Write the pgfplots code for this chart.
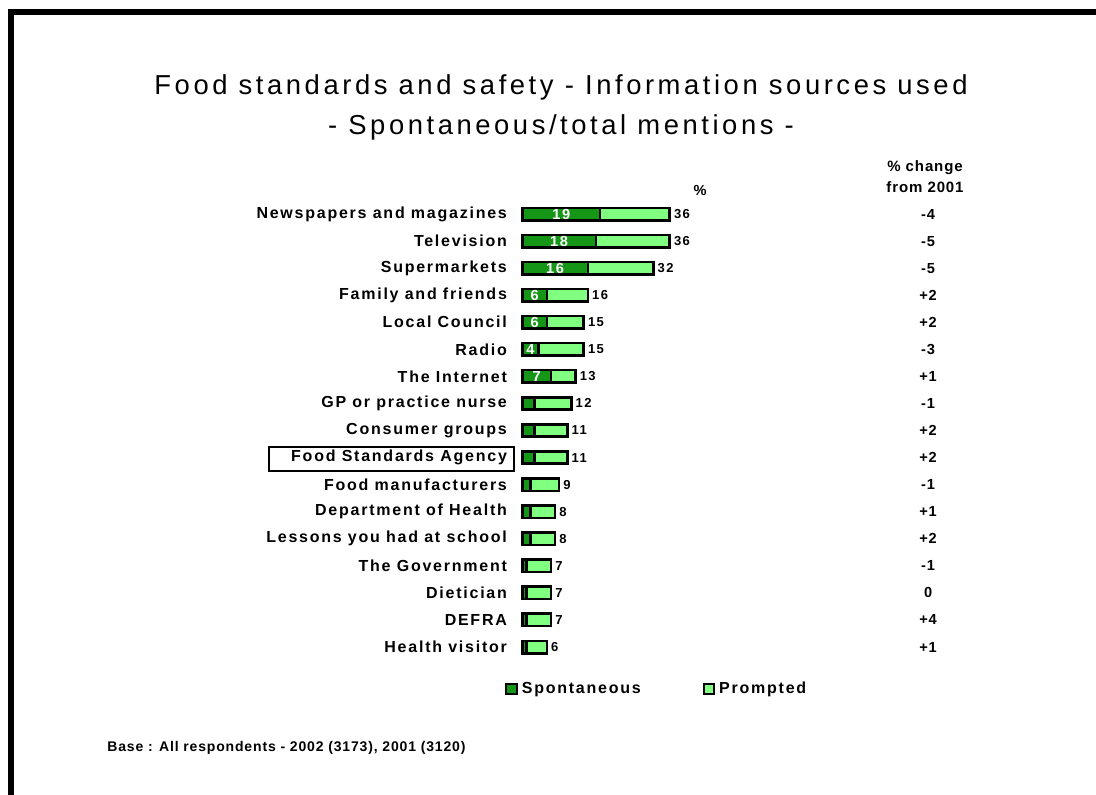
\documentclass[border=0pt]{standalone}
\usepackage{fontspec}
\setmainfont{Liberation Sans}
\newfontfamily\lab[LetterSpace=11]{Liberation Sans}
\newfontfamily\labs[LetterSpace=6]{Liberation Sans}
\newfontfamily\ttl[LetterSpace=13]{Liberation Sans}
\usepackage{pgfplots}
\usepackage{pgfplotstable}
\pgfplotsset{compat=1.18}

\definecolor{spont}{RGB}{22,150,22}
\definecolor{prompt}{RGB}{128,255,128}

% y: row position (16 = top), spont/total in %, change vs 2001
\pgfplotstableread{
y  spont total change lab
16 19 36 -4 19
15 18 36 -5 18
14 16 32 -5 16
13 6  16 +2 6
12 6  15 +2 6
11 4  15 -3 4
10 7  13 +1 7
9  3  12 -1 {}
8  3  11 +2 {}
7  3  11 +2 {}
6  2  9  -1 {}
5  2  8  +1 {}
4  2  8  +2 {}
3  1  7  -1 {}
2  1  7  0  {}
1  1  7  +4 {}
0  1  6  +1 {}
}\data

\begin{document}
\begin{tikzpicture}
\path[use as bounding box] (0,0) rectangle (548pt,397pt);

\begin{axis}[
    at={(261.15pt,73.5pt)}, anchor=origin,
    scale only axis,
    width=73.7pt, height=216.5pt,
    xmin=0, xmax=36, ymin=0, ymax=16,
    clip=false,
    axis line style={draw=none},
    major tick length=0pt,
    xtick=\empty,
    ytick={0,...,16},
    yticklabels={Health visitor, DEFRA, Dietician, The Government,
      Lessons you had at school, Department of Health, Food manufacturers,
      Food Standards Agency, Consumer groups, GP or practice nurse,
      The Internet, Radio, Local Council, Family and friends,
      Supermarkets, Television, Newspapers and magazines},
    yticklabel style={font=\lab\bfseries\fontsize{8pt}{9pt}\selectfont,
      anchor=east, inner sep=0pt, xshift=-7.5pt},
    legend columns=2,
    reverse legend,
    legend style={at={(axis description cs:-0.117,-0.097)}, anchor=west,
      draw=none, fill=none, inner sep=0pt,
      font=\lab\bfseries\fontsize{8pt}{9pt}\selectfont,
      /tikz/every even column/.append style={column sep=29pt}},
    legend cell align=left,
  ]
  \addplot[xbar, bar width=6.2pt, bar shift=0pt, draw=black, line width=1.3pt,
    fill=prompt,
    legend image code/.code={\draw[fill=prompt, draw=black, line width=1pt]
      (0pt,-2.6pt) rectangle (5.2pt,2.6pt);},
    nodes near coords, point meta=explicit symbolic,
    every node near coord/.append style={anchor=west, inner sep=1.5pt,
      font=\lab\bfseries\fontsize{6.5pt}{7pt}\selectfont}]
    table[x=total, y=y, meta=total] {\data};
  \addlegendentry{Prompted}
  \addplot[xbar, bar width=6.2pt, bar shift=0pt, draw=black, line width=1.3pt,
    fill=spont,
    legend image code/.code={\draw[fill=spont, draw=black, line width=1pt]
      (0pt,-2.6pt) rectangle (5.2pt,2.6pt);}]
    table[x=spont, y=y] {\data};
  \addlegendentry{Spontaneous}
  % spontaneous values inside the dark segments
  \addplot[draw=none, mark=none, forget plot,
    nodes near coords, point meta=explicit symbolic,
    every node near coord/.append style={anchor=center, text=white,
      font=\lab\bfseries\fontsize{7.3pt}{8pt}\selectfont}]
    table[x expr=\thisrow{spont}/2, y=y, meta=lab] {\data};
  % change from 2001 column
  \addplot[draw=none, mark=none, forget plot,
    nodes near coords, point meta=explicit symbolic,
    every node near coord/.append style={anchor=center,
      font=\labs\bfseries\fontsize{7.3pt}{8pt}\selectfont}]
    table[x expr=99.1, y=y, meta=change] {\data};
\end{axis}

\begin{scope}[x=0.5pt, y=-0.5pt, yshift=397pt]
  % frame
  \draw[line width=3pt] (10.5,900) -- (10.5,12) -- (1200,12);
  % title
  \node[align=center, font=\ttl\fontsize{13.7pt}{20pt}\selectfont]
    at (561,107) {Food standards and safety - Information sources used\\
    - Spontaneous/total mentions -};
  \node[font=\labs\bfseries\fontsize{7.3pt}{8pt}\selectfont] at (700,190) {\%};
  \node[align=center, font=\labs\bfseries\fontsize{7.5pt}{10.5pt}\selectfont]
    at (925,177) {\% change\\from 2001};
  \draw[line width=1pt] (269,447) rectangle (514,471);
  \node[anchor=west, inner sep=0pt, font=\labs\bfseries\fontsize{7pt}{8pt}\selectfont]
    at (107,748) {Base : All respondents - 2002 (3173), 2001 (3120)};
\end{scope}
\end{tikzpicture}
\end{document}
